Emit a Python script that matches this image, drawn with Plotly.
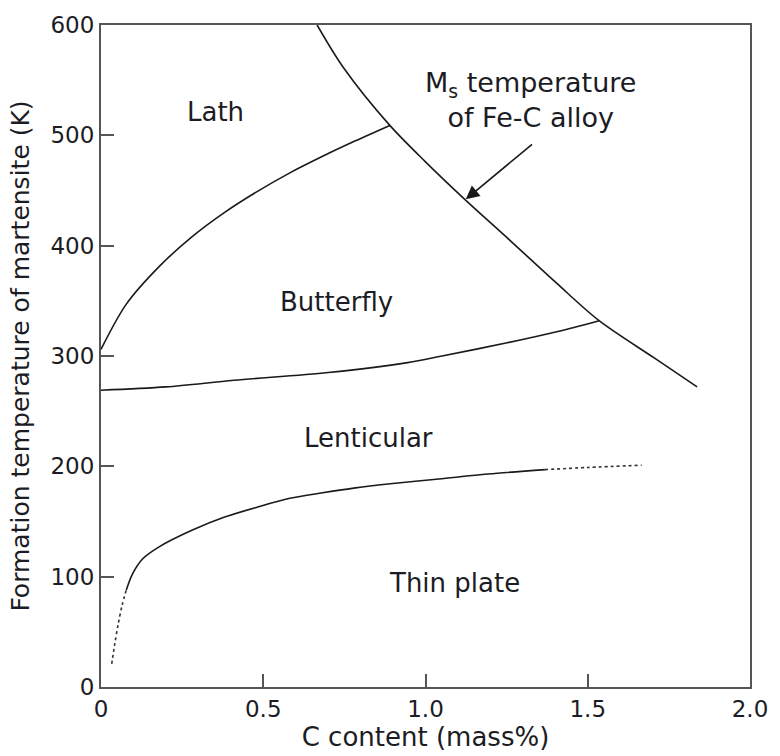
import plotly.graph_objects as go

# Ms temperature of Fe-C alloy (K) vs carbon content (mass%)
ms_c = [0.666, 0.748, 0.890, 1.000, 1.121, 1.252, 1.404, 1.535, 1.706, 1.837]
ms_t = [600, 561, 509, 476, 442, 407, 366, 332, 298, 272]

# Lath / butterfly boundary
lath_c = [0.0, 0.078, 0.179, 0.280, 0.380, 0.481, 0.582, 0.683, 0.784, 0.890]
lath_t = [306, 347, 381, 408, 430, 449, 466, 481, 495, 509]

# Butterfly / lenticular boundary
bf_c = [0.0, 0.20, 0.41, 0.70, 0.945, 1.051, 1.252, 1.404, 1.535]
bf_t = [269, 272, 278, 285, 294, 300, 312, 322, 332]

# Lenticular / thin plate boundary (solid part)
tp_c = [0.078, 0.098, 0.128, 0.179, 0.280, 0.381, 0.481, 0.582, 0.683, 0.784, 0.884, 1.041, 1.192, 1.368]
tp_t = [88, 103, 116, 127, 142, 154, 163, 171, 176, 180.5, 184, 188.5, 193, 197]

# Extrapolated ends of the thin plate boundary (dotted)
tp_low_c = [0.033, 0.043, 0.053, 0.065, 0.078]
tp_low_t = [21, 40, 57, 74, 88]
tp_high_c = [1.368, 1.50, 1.666]
tp_high_t = [197, 199, 201]

# Region labels
region_names = ["Lath", "Butterfly", "Lenticular", "Thin plate"]
region_c = [0.352, 0.727, 0.824, 1.09]
region_t = [521, 349, 226, 94]

x_ticks = [0, 0.5, 1.0, 1.5, 2.0]
x_tick_text = ["0", "0.5", "1.0", "1.5", "2.0"]
y_ticks = [0, 100, 200, 300, 400, 500, 600]

FONT = "DejaVu Sans"
TXT = "#1c1c24"
AX = "#555555"

fig = go.Figure()

solid = dict(color="#1a1a1a", width=1.6)
dotted = dict(color="#333333", width=1.6, dash="3px,3px")

for xs, ys, ln in [
    (ms_c, ms_t, solid),
    (lath_c, lath_t, solid),
    (bf_c, bf_t, solid),
    (tp_c, tp_t, solid),
    (tp_low_c, tp_low_t, dotted),
    (tp_high_c, tp_high_t, dotted),
]:
    fig.add_trace(go.Scatter(x=xs, y=ys, mode="lines",
                             line=dict(shape="spline", smoothing=0.9, **ln),
                             hoverinfo="skip", showlegend=False))

for name, cx, ty in zip(region_names, region_c, region_t):
    fig.add_annotation(x=cx, y=ty, text=name, showarrow=False,
                       font=dict(family=FONT, size=26, color=TXT))

fig.add_annotation(x=1.325, y=532, text="M<sub>s</sub> temperature<br>of Fe-C alloy",
                   showarrow=False, font=dict(family=FONT, size=27, color=TXT))

# Arrow pointing at the Ms curve
fig.add_annotation(x=1.124, y=442, ax=1.333, ay=493, axref="x", ayref="y",
                   text="", showarrow=True, arrowhead=2, arrowsize=1.7,
                   arrowwidth=1.6, arrowcolor="#1a1a1a", standoff=0)

axis_common = dict(showline=True, mirror=True, linecolor=AX, linewidth=2,
                   ticks="inside", ticklen=13, tickwidth=2, tickcolor=AX,
                   showgrid=False, zeroline=False,
                   tickfont=dict(family=FONT, size=23, color=TXT))

fig.update_xaxes(range=[0, 2.0], tickvals=x_ticks, ticktext=x_tick_text,
                 title=dict(text="C content (mass%)", standoff=4,
                            font=dict(family=FONT, size=26, color=TXT)),
                 **axis_common)
fig.update_yaxes(range=[0, 600], tickvals=y_ticks,
                 title=dict(text="Formation temperature of martensite (K)", standoff=14,
                            font=dict(family=FONT, size=25, color=TXT)),
                 **axis_common)

fig.update_layout(width=780, height=756,
                  margin=dict(l=101, r=21, t=22, b=66),
                  plot_bgcolor="white", paper_bgcolor="white")

fig.write_html("out.html")
